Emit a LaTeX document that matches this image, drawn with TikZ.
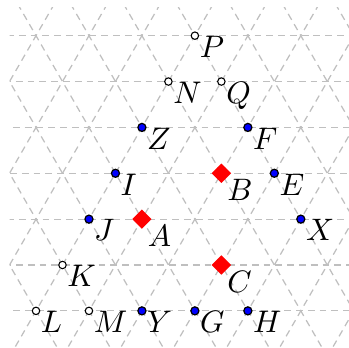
\documentclass[tikz,border=0pt]{standalone}
\usepackage{tikz}
\usetikzlibrary{shapes.geometric}

\begin{document}
\begin{tikzpicture}[x=0.6cm, y=0.6cm]
    \tikzset{
        gridline/.style={
                gray!50, line width=0.4pt, dash pattern=on 2.2pt off 1.6pt
            },
        lattice/.style={
                x={(0.6cm,0)}, y={(0.3cm,0.5196cm)}
            },
        lbl/.style={
                anchor=north west, inner sep=0pt
            },
        bdot/.style={
                circle, draw=black, fill=blue, line width=0.4pt, inner sep=0pt, minimum size=2.6pt
            },
        odot/.style={
                circle, draw=black, fill=white, line width=0.35pt, inner sep=0pt, minimum size=2.4pt
            },
        rdia/.style={
                diamond, fill=red, inner sep=0pt, minimum size=6.4pt
            }
    }

    \useasboundingbox (-0.68, -0.70) rectangle (5.91, 5.87);

    % Triangular grid
    \begin{scope}
        \clip (-0.5, -0.70) rectangle (5.91, 5.72);
        \begin{scope}[lattice]
            \foreach \n in {-8,...,12} {
                    \draw[gridline] (\n, -1) -- (\n, 8);
                    \draw[gridline] (\n, -1) -- (\n-9, 8);
                }
            \foreach \k in {-1,...,7} {
                    \draw[gridline] (-8, \k) -- (12, \k);
                }
        \end{scope}
    \end{scope}

    \begin{scope}[lattice]
        % Open points
        \node[odot, label={[lbl]0:$P$}] (P) at (0, 6) {};
        \node[odot, label={[lbl]0:$N$}] (N) at (0, 5) {};
        \node[odot, label={[lbl]0:$Q$}] (Q) at (1, 5) {};
        \node[odot, label={[lbl]0:$K$}] (K) at (0, 1) {};
        \node[odot, label={[lbl]0:$L$}] (L) at (0, 0) {};
        \node[odot, label={[lbl]0:$M$}] (M) at (1, 0) {};
        % Blue points
        \node[bdot, label={[lbl]0:$Z$}] (Z) at (0, 4) {};
        \node[bdot, label={[lbl]0:$F$}] (F) at (2, 4) {};
        \node[bdot, label={[lbl]0:$I$}] (I) at (0, 3) {};
        \node[bdot, label={[lbl]0:$E$}] (E) at (3, 3) {};
        \node[bdot, label={[lbl]0:$J$}] (J) at (0, 2) {};
        \node[bdot, label={[lbl]0:$X$}] (X) at (4, 2) {};
        \node[bdot, label={[lbl]0:$Y$}] (Y) at (2, 0) {};
        \node[bdot, label={[lbl]0:$G$}] (G) at (3, 0) {};
        \node[bdot, label={[lbl]0:$H$}] (H) at (4, 0) {};
        % Red points
        \node[rdia, label={[lbl]-45:$A$}] (A) at (1, 2) {};
        \node[rdia, label={[lbl]-45:$B$}] (B) at (2, 3) {};
        \node[rdia, label={[lbl]-45:$C$}] (C) at (3, 1) {};
    \end{scope}
\end{tikzpicture}
\end{document}
